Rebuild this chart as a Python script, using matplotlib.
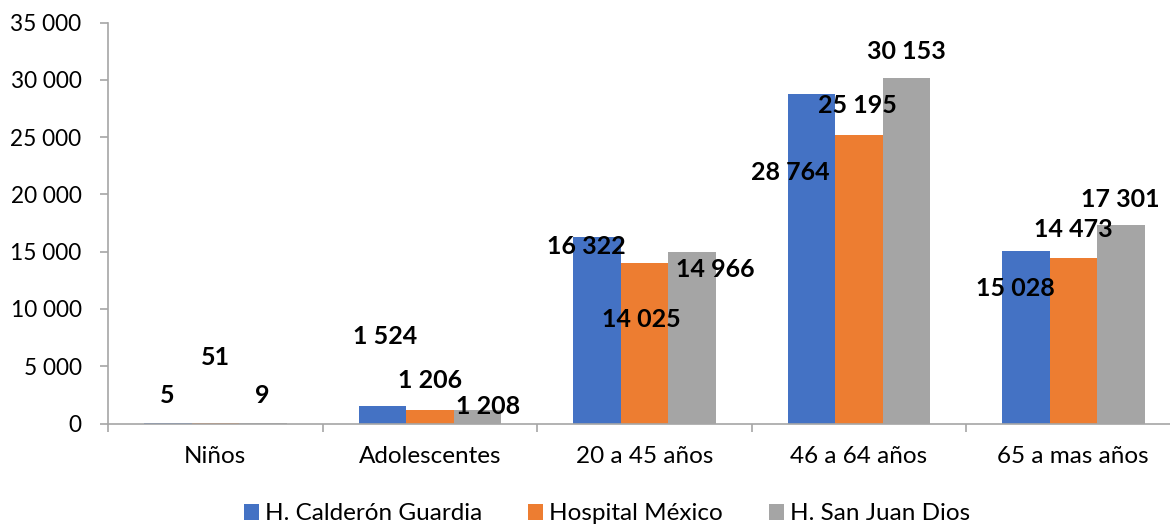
import matplotlib
matplotlib.use("Agg")
import matplotlib.pyplot as plt
from matplotlib.ticker import FuncFormatter, FixedLocator
import numpy as np

plt.rcParams['font.family'] = ['Lato', 'DejaVu Sans']

categories = ["Niños", "Adolescentes", "20 a 45 años", "46 a 64 años", "65 a mas años"]
series_names = ["H. Calderón Guardia", "Hospital México", "H. San Juan Dios"]
calderon = [5, 1524, 16322, 28764, 15028]
mexico = [51, 1206, 14025, 25195, 14473]
san_juan = [9, 1208, 14966, 30153, 17301]

colors = ["#4472C4", "#ED7D31", "#A5A5A5"]
axis_grey = "#A6A6A6"

# hand-placed label offsets (pixels from the top-centre of each bar)
label_offsets = [
    [(-1, 28), (3, 70), (-10, -10), (-21, -78), (-10, -37)],
    [(0, 65), (0, 29), (-3, -57), (-1, 29), (0, 28)],
    [(0, 28), (11, 3), (24, -17), (0, 27), (0, 26)],
]

def thousands(v, pos=None):
    return f"{int(round(v)):,}".replace(",", " ")

fig = plt.figure(figsize=(11.70, 5.24), dpi=100)
ax = fig.add_axes([108 / 1170, 100.5 / 524, 1072.5 / 1170, 400.8 / 524])

x = np.arange(len(categories))
width = 47.5 / 214.5
all_series = [calderon, mexico, san_juan]
for i, (vals, name, col) in enumerate(zip(all_series, series_names, colors)):
    pos = x + (i - 1) * width
    bars = ax.bar(pos, vals, width=width, color=col, label=name, linewidth=0)
    for j, (b, v) in enumerate(zip(bars, vals)):
        dx, dy = label_offsets[i][j]
        ax.annotate(thousands(v), xy=(b.get_x() + b.get_width() / 2, v),
                    xytext=(dx, dy), textcoords="offset pixels",
                    ha="center", va="center", fontsize=18, fontweight="bold",
                    color="black")

ax.set_xlim(-0.5, len(categories) - 0.5)
ax.set_ylim(0, 35000)
ax.set_yticks(np.arange(0, 35001, 5000))
ax.yaxis.set_major_formatter(FuncFormatter(thousands))
ax.set_xticks(x)
ax.set_xticklabels(categories)
ax.xaxis.set_minor_locator(FixedLocator(np.arange(-0.5, len(categories), 1.0)))

for side in ("top", "right"):
    ax.spines[side].set_visible(False)
for side in ("left", "bottom"):
    ax.spines[side].set_color(axis_grey)
    ax.spines[side].set_linewidth(1.2)

ax.tick_params(axis="y", length=6, width=1.2, color=axis_grey, pad=13,
               labelsize=16.3, labelcolor="black")
ax.tick_params(axis="x", which="major", length=0, pad=16, labelsize=17.5,
               labelcolor="black")
ax.tick_params(axis="x", which="minor", length=6, width=1.2, color=axis_grey)

fig.legend(loc="center", bbox_to_anchor=(607 / 1170, 1 - 514 / 524), ncol=3,
           frameon=False, fontsize=17.5, handlelength=0.6, handleheight=0.6,
           handletextpad=0.25, columnspacing=1.9)

fig.savefig("out.png", dpi=100)
